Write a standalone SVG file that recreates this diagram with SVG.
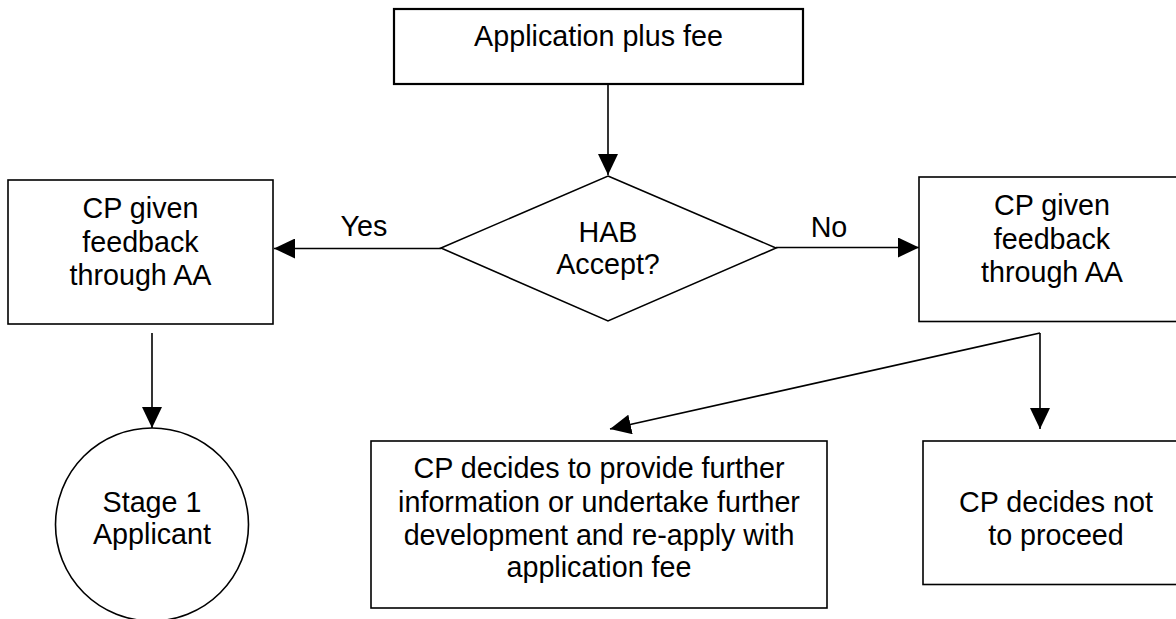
<svg xmlns="http://www.w3.org/2000/svg" width="1176" height="619" viewBox="0 0 1176 619">
<style>
  .box { fill: #ffffff; stroke: #000000; stroke-width: 1.6; }
  .top { stroke-width: 2.2; }
  .t { font-family: "Liberation Sans", Arial, sans-serif; font-size: 28.7px; fill: #000000; text-anchor: middle; }
  .c { fill: none; stroke: #000000; stroke-width: 1.6; }
</style>
<defs>
  <marker id="arr" markerUnits="userSpaceOnUse" markerWidth="21" markerHeight="20" refX="21" refY="10" orient="auto">
    <path d="M0,0 L21,10 L0,20 Z" fill="#000000"/>
  </marker>
</defs>
<rect width="1176" height="619" fill="#ffffff"/>
<g id="connectors">
  <line class="c" x1="608" y1="84" x2="608" y2="175" marker-end="url(#arr)"/>
  <line class="c" x1="441" y1="248.5" x2="274" y2="248.5" marker-end="url(#arr)"/>
  <line class="c" x1="776" y1="247.5" x2="919" y2="247.5" marker-end="url(#arr)"/>
  <line class="c" x1="152" y1="333" x2="152" y2="428" marker-end="url(#arr)"/>
  <line class="c" x1="1040" y1="333" x2="1040" y2="429" marker-end="url(#arr)"/>
  <line class="c" x1="1040" y1="333" x2="610" y2="429" marker-end="url(#arr)"/>
  <text class="t" x="364" y="236">Yes</text>
  <text class="t" x="829" y="236.5">No</text>
</g>
<g id="application">
  <rect class="box top" x="394" y="9" width="409" height="75"/>
  <text class="t" x="598.5" y="46">Application plus fee</text>
</g>
<g id="hab-accept">
  <polygon class="box" points="608,176 776,248 608,321 441,248"/>
  <text class="t" x="608" y="242">HAB</text>
  <text class="t" x="608" y="274">Accept?</text>
</g>
<g id="feedback-yes">
  <rect class="box" x="8" y="180" width="265" height="144"/>
  <text class="t" x="140.5" y="218">CP given</text>
  <text class="t" x="140.5" y="251.5">feedback</text>
  <text class="t" x="140.5" y="285">through AA</text>
</g>
<g id="feedback-no">
  <rect class="box" x="919" y="177" width="266" height="144.5"/>
  <text class="t" x="1052" y="215">CP given</text>
  <text class="t" x="1052" y="248.5">feedback</text>
  <text class="t" x="1052" y="282">through AA</text>
</g>
<g id="stage1">
  <circle class="box" cx="152" cy="524.5" r="96.5"/>
  <text class="t" x="152" y="511.5">Stage 1</text>
  <text class="t" x="152" y="544">Applicant</text>
</g>
<g id="reapply">
  <rect class="box" x="371" y="441" width="456" height="167"/>
  <text class="t" x="599" y="478">CP decides to provide further</text>
  <text class="t" x="599" y="511.5">information or undertake further</text>
  <text class="t" x="599" y="545">development and re-apply with</text>
  <text class="t" x="599" y="577">application fee</text>
</g>
<g id="not-proceed">
  <rect class="box" x="923" y="441" width="266" height="143.5"/>
  <text class="t" x="1056" y="511.5">CP decides not</text>
  <text class="t" x="1056" y="545">to proceed</text>
</g>
</svg>
